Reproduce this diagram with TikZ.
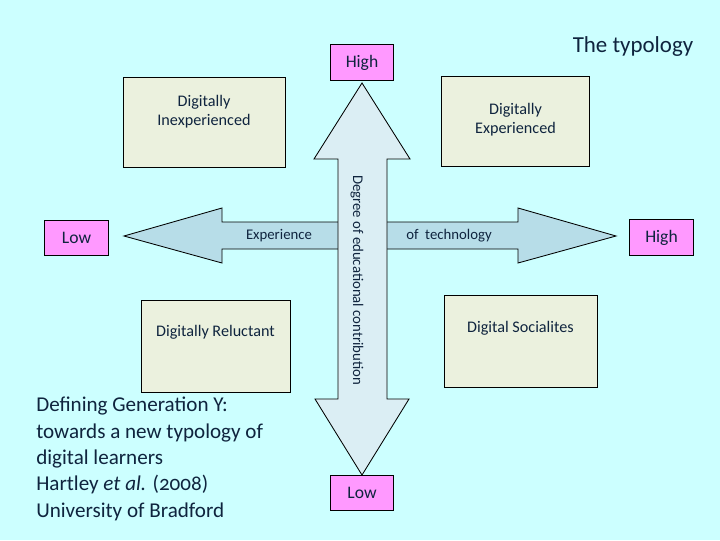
\documentclass[tikz,border=0pt]{standalone}
\usepackage{fontspec}
\setmainfont{Carlito}
\usepackage{xcolor}
\usepackage{tikz}
\usetikzlibrary{positioning,calc}
\definecolor{slidebg}{HTML}{CCFFFF}
\definecolor{quadfill}{HTML}{EBF1DE}
\definecolor{endfill}{HTML}{FF99FF}
\definecolor{harrow}{HTML}{B7DDE8}
\definecolor{varrow}{HTML}{DBEEF4}
\definecolor{navy}{HTML}{0F243E}

\begin{document}
\begin{tikzpicture}[x=0.025cm,y=-0.025cm,font=\fontsize{11.5}{13}\selectfont,text=navy]
        \tikzstyle{q}=[draw,line width=0.6pt,fill=quadfill,inner sep=0pt]
        \tikzstyle{e}=[draw,line width=0.6pt,fill=endfill,minimum width=1.58cm,minimum height=0.88cm,inner sep=0pt,font=\fontsize{12.5}{14}\selectfont]
        \tikzstyle{t}=[align=center,inner sep=0pt]
        \tikzstyle{ax}=[inner sep=0pt,font=\fontsize{10.5}{12}\selectfont]
        \tikzstyle{ar}=[draw,line width=0.6pt]
        \fill[slidebg] (0,0) rectangle (720,540);
        % Experience axis (drawn first, the other axis lies on top)
        \path[ar,fill=harrow] (124,236) -- (222,208) -- (222,222) -- (518,222) -- (518,208)
          -- (616,236) -- (518,263) -- (518,249) -- (222,249) -- (222,263) -- cycle;
        \path[ar,fill=varrow] (362,83) -- (410,159) -- (387,159) -- (387,399) -- (409,399)
          -- (362,475) -- (315,399) -- (338,399) -- (338,159) -- (314,159) -- cycle;
        \node[ax] (xl) at (279,236) {Experience};
        \node[ax] (xr) at (449,236) {of\ \ technology};
        \node[ax,rotate=-90] (yl) at (357,280) {Degree of educational contribution};
        % ends of the axes
        \node[e] (lo) at (76.5,238) {Low};
        \node[e] (hi) at (661.5,237.5) {High};
        \node[e] (top) at (362,62.5) {High};
        \node[e] (bot) at (362,493) {Low};
        % the four types
        \node[q,minimum width=4.05cm,minimum height=2.27cm] (di) at (204,122.5) {};
        \node[q,minimum width=3.68cm,minimum height=2.25cm] (de) at (515.5,121) {};
        \node[q,minimum width=3.72cm,minimum height=2.30cm] (dr) at (215.5,346) {};
        \node[q,minimum width=3.82cm,minimum height=2.30cm] (ds) at (520.5,341) {};
        \node[t] at ($(di.north)+(0,35)$) {Digitally\\Inexperienced};
        \node[t] at ($(de.north)+(0,44)$) {Digitally\\Experienced};
        \node[t] at ($(dr.north)+(0,33)$) {Digitally Reluctant};
        \node[t] at ($(ds.north)+(0,34)$) {Digital Socialites};
        \node[t,font=\fontsize{16.3}{18}\selectfont] (ttl) at (633,47) {The typology};
        \node[t,align=left,anchor=north west,font=\fontsize{15}{18.7}\selectfont] (ref) at (36,397)
          {Defining Generation Y:\\towards a new typology of\\digital learners\\
           Hartley \textit{et al.} ({\addfontfeatures{Numbers=OldStyle}2008})\\University of Bradford};
      \end{tikzpicture}
\end{document}
